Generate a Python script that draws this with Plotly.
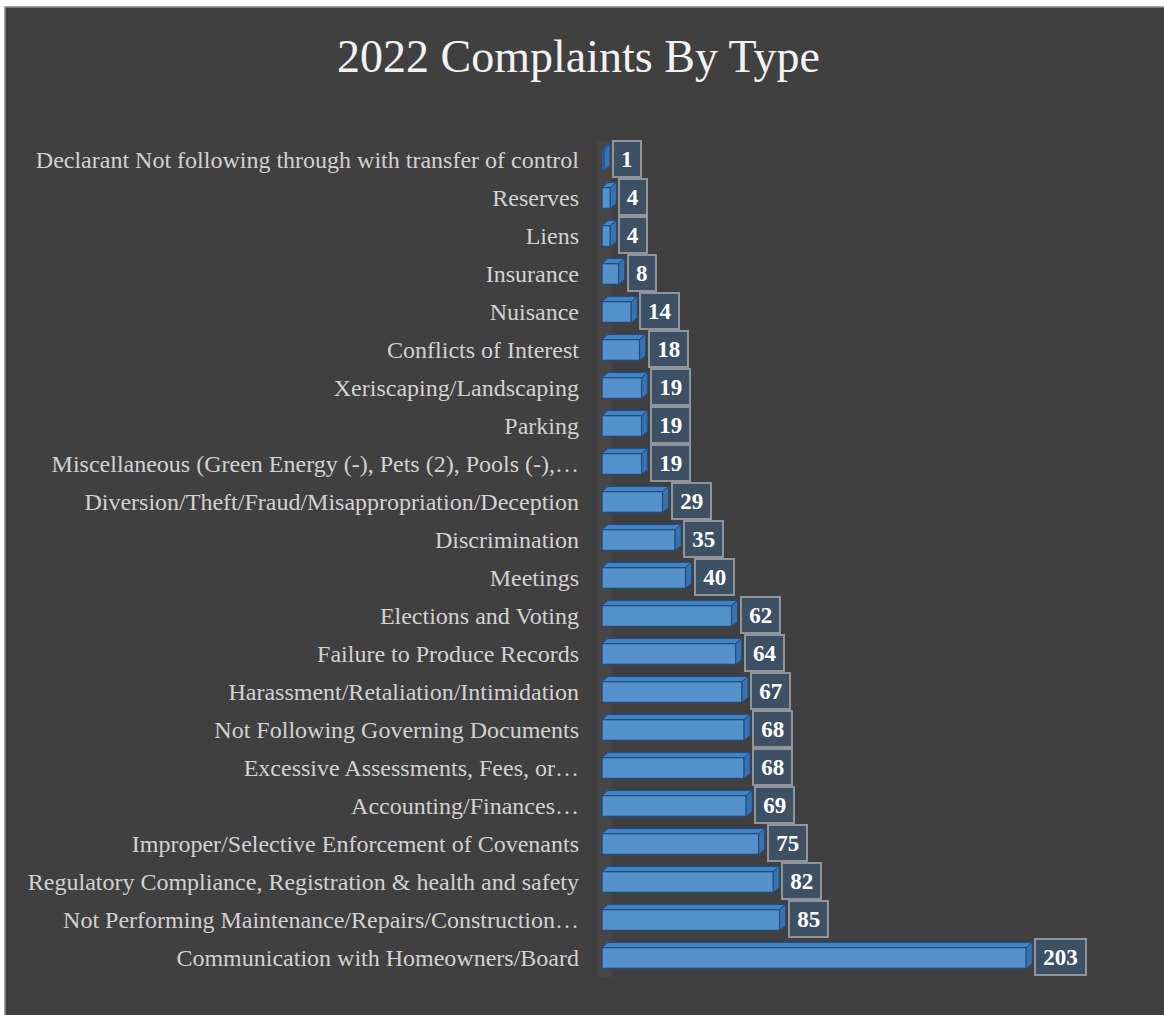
import plotly.graph_objects as go

# ---- data (top to bottom as shown) ----
categories = [
    "Declarant Not following through with transfer of control",
    "Reserves",
    "Liens",
    "Insurance",
    "Nuisance",
    "Conflicts of Interest",
    "Xeriscaping/Landscaping",
    "Parking",
    "Miscellaneous (Green Energy (-), Pets (2), Pools (-),…",
    "Diversion/Theft/Fraud/Misappropriation/Deception",
    "Discrimination",
    "Meetings",
    "Elections and Voting",
    "Failure to Produce Records",
    "Harassment/Retaliation/Intimidation",
    "Not Following Governing Documents",
    "Excessive Assessments, Fees, or…",
    "Accounting/Finances…",
    "Improper/Selective Enforcement of Covenants",
    "Regulatory Compliance, Registration & health and safety",
    "Not Performing Maintenance/Repairs/Construction…",
    "Communication with Homeowners/Board",
]
values = [1, 4, 4, 8, 14, 18, 19, 19, 19, 29, 35, 40, 62, 64, 67, 68, 68, 69, 75, 82, 85, 203]
title_text = "2022 Complaints By Type"

# ---- layout geometry ----
W, H = 1164, 1015
SCALE = 2.09          # px per unit
L, R_M, T, B = 594, 20, 141, 38
ZERO_PX = 602
pw = W - L - R_M
ph = H - T - B
x0 = -(ZERO_PX - L) / SCALE
x1 = x0 + pw / SCALE
n = len(categories)
ypos = list(range(n))
row_px = ph / n
BAR_W = 0.55
DX = 6 / SCALE
DY = 5 / row_px

FRONT = "#5591cb"
TOPC = "#4682c2"
SIDE = "#3a72ad"
EDGE = "#1f4e86"

def px_to_paper_x(px):
    return (px - L) / pw

def px_to_paper_y(py):
    return (H - B - py) / ph

fig = go.Figure()
fig.add_trace(go.Bar(
    x=values, y=ypos, orientation="h", width=BAR_W,
    marker=dict(color=FRONT, line=dict(color=EDGE, width=1.5)),
    hoverinfo="skip",
))

shapes = [
    # chart background + border
    dict(type="rect", xref="paper", yref="paper", layer="below",
         x0=px_to_paper_x(5), x1=px_to_paper_x(W + 20),
         y0=px_to_paper_y(H + 20), y1=px_to_paper_y(7),
         fillcolor="#404040", line=dict(color="#8c8c8c", width=1.5)),
    # 3D wall floor strip
    dict(type="rect", xref="x", yref="y", layer="below",
         x0=-2, x1=5, y0=n - 0.45, y1=-0.55,
         fillcolor="#4a4545", line=dict(width=0)),
]
for yi, v in zip(ypos, values):
    top = yi - BAR_W / 2
    bot = yi + BAR_W / 2
    # top face
    shapes.append(dict(
        type="path", xref="x", yref="y", layer="above",
        path=f"M 0 {top} L {v} {top} L {v + DX} {top - DY} L {DX} {top - DY} Z",
        fillcolor=TOPC, line=dict(color=EDGE, width=1)))
    # right face
    shapes.append(dict(
        type="path", xref="x", yref="y", layer="above",
        path=f"M {v} {top} L {v} {bot} L {v + DX} {bot - DY} L {v + DX} {top - DY} Z",
        fillcolor=SIDE, line=dict(color=EDGE, width=1)))

annotations = []
for yi, v in zip(ypos, values):
    s = str(v)
    annotations.append(dict(
        x=v, y=yi, xref="x", yref="y", text=s, showarrow=False,
        xanchor="left", yanchor="middle", xshift=8, yshift=1,
        font=dict(family="Liberation Serif", size=23, color="#ffffff", weight="bold"),
        bgcolor="#3d5064", bordercolor="#8f959b", borderwidth=2, borderpad=4.5,
        width=11.7 * len(s) + 5,
    ))

fig.update_layout(
    width=W, height=H,
    margin=dict(l=L, r=R_M, t=T, b=B, pad=0),
    paper_bgcolor="#ffffff",
    plot_bgcolor="rgba(0,0,0,0)",
    showlegend=False,
    title=dict(text=title_text, x=0.497, xanchor="center", y=1 - 56 / H, yanchor="middle",
               yref="container",
               font=dict(family="Liberation Serif", size=46, color="#f2f2f2")),
    xaxis=dict(range=[x0, x1], visible=False, showgrid=False, zeroline=False),
    yaxis=dict(range=[n - 0.5, -0.5], tickmode="array", tickvals=ypos, ticktext=categories,
               showgrid=False, zeroline=False, showline=False, ticks="",
               ticklabelstandoff=14,
               tickfont=dict(family="Liberation Serif", size=24, color="#d2d2d2")),
    shapes=shapes,
    annotations=annotations,
)

fig.write_html("out.html")
